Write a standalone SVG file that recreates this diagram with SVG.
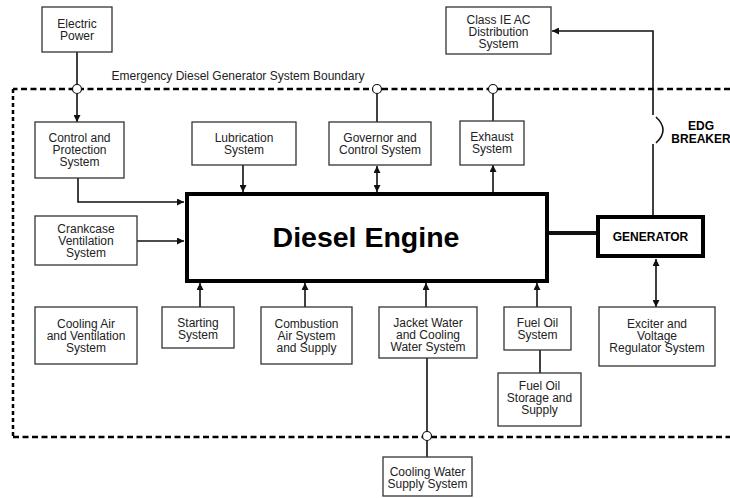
<svg xmlns="http://www.w3.org/2000/svg" width="730" height="498" viewBox="0 0 730 498">
<defs>
<marker id="ah" viewBox="0 0 10 10" refX="10" refY="5" markerWidth="7" markerHeight="7" markerUnits="userSpaceOnUse" orient="auto-start-reverse"><path d="M0,0 L10,5 L0,10 z" fill="#111"/></marker>
</defs>
<style>
.box{fill:#fff;stroke:#333;stroke-width:1.3}
.thick{fill:#fff;stroke:#000;stroke-width:4}
.t{font-family:"Liberation Sans",Arial,sans-serif;font-size:12px;fill:#222;text-anchor:middle}
.b{font-family:"Liberation Sans",Arial,sans-serif;font-weight:bold;fill:#000;text-anchor:middle}
.ln{fill:none;stroke:#111;stroke-width:1.6}
.arr{fill:none;stroke:#111;stroke-width:1.6;marker-end:url(#ah)}
.dbl{fill:none;stroke:#111;stroke-width:1.6;marker-end:url(#ah);marker-start:url(#ah)}
.dash{fill:none;stroke:#000;stroke-width:2.5;stroke-dasharray:6 3.5}
.port{fill:#fff;stroke:#111;stroke-width:1.2}
</style>
<g id="boundary">
<path class="dash" d="M730,89 H13"/>
<path class="dash" d="M13,89 V437" style="stroke-dasharray:4 3"/>
<path class="dash" d="M13,437 H730"/>
<text class="t" x="238" y="80">Emergency Diesel Generator System Boundary</text>
</g>
<g id="connectors">
<path class="ln" d="M77,52 V85"/>
<path class="arr" d="M77,93 V122"/>
<path class="arr" d="M78,178 V202 H184"/>
<path class="arr" d="M137,241 H184"/>
<path class="arr" d="M243,165 V192"/>
<path class="ln" d="M377,93 V122"/>
<path class="dbl" d="M377,166 V192"/>
<path class="ln" d="M493,93 V121"/>
<path class="arr" d="M493,192 V165"/>
<path class="arr" d="M200,307 V283"/>
<path class="arr" d="M305,307 V283"/>
<path class="arr" d="M426,307 V283"/>
<path class="arr" d="M537,307 V283"/>
<path class="ln" d="M540,350 V373"/>
<path class="ln" d="M427,358 V432"/>
<path class="ln" d="M427,440 V457"/>
<path class="ln" d="M549,233 H597" style="stroke-width:4"/>
<path class="dbl" d="M656,259 V307"/>
<path class="ln" d="M653,215 V144"/>
<path class="arr" d="M653,115 V31 H552"/>
<path class="ln" d="M656,117 Q670,130 656,143"/>
<circle class="port" cx="77" cy="89" r="4.5"/>
<circle class="port" cx="377" cy="89" r="4.5"/>
<circle class="port" cx="493" cy="89" r="4.5"/>
<circle class="port" cx="427" cy="436" r="4.5"/>
<text class="b" x="701" y="130" font-size="12">EDG</text>
<text class="b" x="701" y="143" font-size="12">BREAKER</text>
</g>
<g id="electric-power"><rect class="box" x="42" y="7" width="70" height="45"/><text class="t" x="77" y="28">Electric</text><text class="t" x="77" y="40">Power</text></g>
<g id="class-ie"><rect class="box" x="446" y="7" width="105" height="47"/><text class="t" x="498.5" y="24">Class IE AC</text><text class="t" x="498.5" y="36">Distribution</text><text class="t" x="498.5" y="48">System</text></g>
<g id="control-protection"><rect class="box" x="35" y="122" width="89" height="56"/><text class="t" x="79.5" y="142">Control and</text><text class="t" x="79.5" y="154">Protection</text><text class="t" x="79.5" y="166">System</text></g>
<g id="lubrication"><rect class="box" x="192" y="122" width="104" height="43"/><text class="t" x="244" y="142">Lubrication</text><text class="t" x="244" y="154">System</text></g>
<g id="governor"><rect class="box" x="329" y="122" width="102" height="43"/><text class="t" x="380" y="142">Governor and</text><text class="t" x="380" y="154">Control System</text></g>
<g id="exhaust"><rect class="box" x="460" y="121" width="64" height="44"/><text class="t" x="492" y="141">Exhaust</text><text class="t" x="492" y="153">System</text></g>
<g id="crankcase"><rect class="box" x="35" y="216" width="102" height="49"/><text class="t" x="86" y="233">Crankcase</text><text class="t" x="86" y="245">Ventilation</text><text class="t" x="86" y="257">System</text></g>
<g id="diesel-engine"><rect class="thick" x="187" y="194" width="360" height="87"/><text class="b" x="366" y="247" font-size="28.5">Diesel Engine</text></g>
<g id="generator"><rect class="thick" x="598" y="217" width="105" height="39"/><text class="b" x="650.5" y="241" font-size="12">GENERATOR</text></g>
<g id="cooling-air"><rect class="box" x="35" y="307" width="102" height="57"/><text class="t" x="86" y="328">Cooling Air</text><text class="t" x="86" y="340">and Ventilation</text><text class="t" x="86" y="352">System</text></g>
<g id="starting"><rect class="box" x="162" y="307" width="72" height="41"/><text class="t" x="198" y="327">Starting</text><text class="t" x="198" y="339">System</text></g>
<g id="combustion"><rect class="box" x="261" y="307" width="91" height="57"/><text class="t" x="306.5" y="328">Combustion</text><text class="t" x="306.5" y="340">Air System</text><text class="t" x="306.5" y="352">and Supply</text></g>
<g id="jacket-water"><rect class="box" x="379" y="307" width="98" height="51"/><text class="t" x="428" y="327">Jacket Water</text><text class="t" x="428" y="339">and Cooling</text><text class="t" x="428" y="351">Water System</text></g>
<g id="fuel-oil"><rect class="box" x="504" y="307" width="67" height="43"/><text class="t" x="537.5" y="327">Fuel Oil</text><text class="t" x="537.5" y="339">System</text></g>
<g id="exciter"><rect class="box" x="599" y="307" width="116" height="59"/><text class="t" x="657" y="328">Exciter and</text><text class="t" x="657" y="340">Voltage</text><text class="t" x="657" y="352">Regulator System</text></g>
<g id="fuel-storage"><rect class="box" x="498" y="373" width="83" height="53"/><text class="t" x="539.5" y="390">Fuel Oil</text><text class="t" x="539.5" y="402">Storage and</text><text class="t" x="539.5" y="414">Supply</text></g>
<g id="cooling-water-supply"><rect class="box" x="383" y="457" width="89" height="39"/><text class="t" x="427.5" y="476">Cooling Water</text><text class="t" x="427.5" y="488">Supply System</text></g>
</svg>
